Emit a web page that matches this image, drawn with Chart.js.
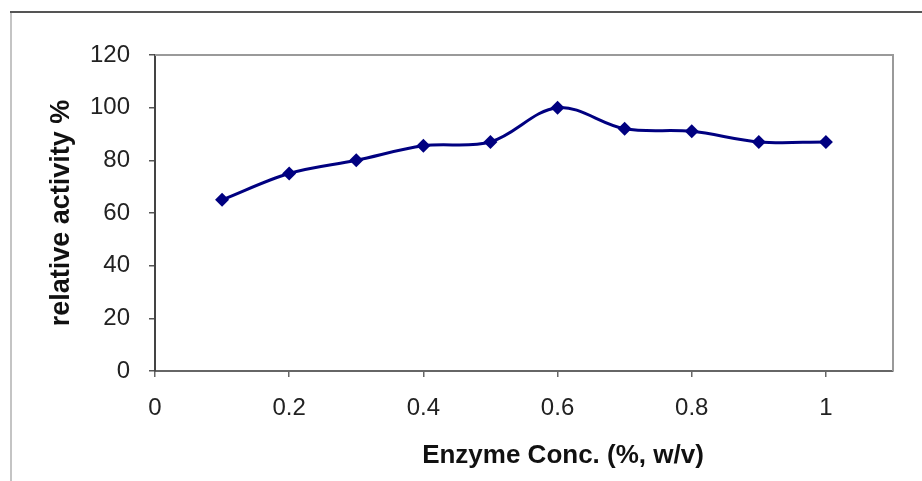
<!DOCTYPE html>
<html>
<head>
<meta charset="utf-8">
<script src="https://cdn.jsdelivr.net/npm/chart.js@4/dist/chart.umd.min.js"></script>
<style>
  html, body { margin: 0; padding: 0; background: #fff; }
  #wrap { width: 922px; height: 481px; position: relative; }
</style>
</head>
<body>
<div id="wrap"><canvas id="activityChart"></canvas></div>
<script>
// --- data ---
const concentrations = [0.1, 0.2, 0.3, 0.4, 0.5, 0.6, 0.7, 0.8, 0.9, 1.0];
const activity = [65, 75, 80, 85.5, 87, 100, 92, 91, 87, 87];
const xTicks = [0, 0.2, 0.4, 0.6, 0.8, 1];
const yTicks = [0, 20, 40, 60, 80, 100, 120];

const xTitle = 'Enzyme Conc. (%, w/v)';
const yTitle = 'relative activity %';

const fontFamily = '"Liberation Sans", Arial, sans-serif';

// outer frame + plot box + x axis title
const framePlugin = {
  id: 'frame',
  beforeDraw(chart) {
    const ctx = chart.ctx;
    ctx.save();
    ctx.lineWidth = 2;
    ctx.strokeStyle = '#c4c4c4';
    ctx.beginPath();
    ctx.moveTo(11, 12);
    ctx.lineTo(11, chart.height);
    ctx.stroke();
    ctx.strokeStyle = '#555';
    ctx.beginPath();
    ctx.moveTo(10, 12);
    ctx.lineTo(chart.width, 12);
    ctx.stroke();
    ctx.restore();
  },
  afterDatasetsDraw(chart) {
    const ctx = chart.ctx;
    const a = chart.chartArea;
    ctx.save();
    ctx.lineWidth = 2;
    ctx.strokeStyle = '#9a9a9a';
    ctx.beginPath();
    ctx.moveTo(a.left, a.top);
    ctx.lineTo(a.right, a.top);
    ctx.lineTo(a.right, a.bottom);
    ctx.stroke();
    ctx.fillStyle = '#111';
    ctx.font = 'bold 26px ' + fontFamily;
    ctx.textAlign = 'center';
    ctx.textBaseline = 'alphabetic';
    ctx.fillText(xTitle, 563, 463);
    ctx.restore();
  }
};

const ctx = document.getElementById('activityChart').getContext('2d');
const activityChart = new Chart(ctx, {
  type: 'line',
  data: {
    datasets: [{
      data: concentrations.map((c, i) => ({ x: c, y: activity[i] })),
      borderColor: '#000080',
      backgroundColor: '#000080',
      borderWidth: 3,
      tension: 0.35,
      pointStyle: 'rectRot',
      pointRadius: 7,
      pointBorderWidth: 0,
      fill: false
    }]
  },
  options: {
    responsive: true,
    maintainAspectRatio: false,
    animation: false,
    layout: { padding: { left: 45, top: 55, right: 29, bottom: 0 } },
    plugins: { legend: { display: false }, tooltip: { enabled: false } },
    scales: {
      x: {
        type: 'linear',
        min: 0,
        max: 1.1,
        afterBuildTicks: scale => { scale.ticks = xTicks.map(v => ({ value: v })); },
        afterFit: scale => { scale.height = 110; },
        grid: { drawOnChartArea: false, tickLength: 6, color: '#666', lineWidth: 1.5 },
        border: { color: '#666', width: 2 },
        ticks: {
          padding: 17,
          color: '#222',
          font: { family: fontFamily, size: 24 },
          maxRotation: 0,
          callback: v => String(v)
        }
      },
      y: {
        min: 0,
        max: 120,
        afterBuildTicks: scale => { scale.ticks = yTicks.map(v => ({ value: v })); },
        afterFit: scale => { scale.width = 110; },
        grid: { drawOnChartArea: false, tickLength: 6, color: '#555', lineWidth: 1.5 },
        border: { color: '#444', width: 2 },
        ticks: {
          padding: 19,
          color: '#222',
          font: { family: fontFamily, size: 24 }
        },
        title: {
          display: true,
          text: yTitle,
          color: '#111',
          padding: 0,
          font: { family: fontFamily, size: 27, weight: 'bold' }
        }
      }
    }
  },
  plugins: [framePlugin]
});
</script>
</body>
</html>
